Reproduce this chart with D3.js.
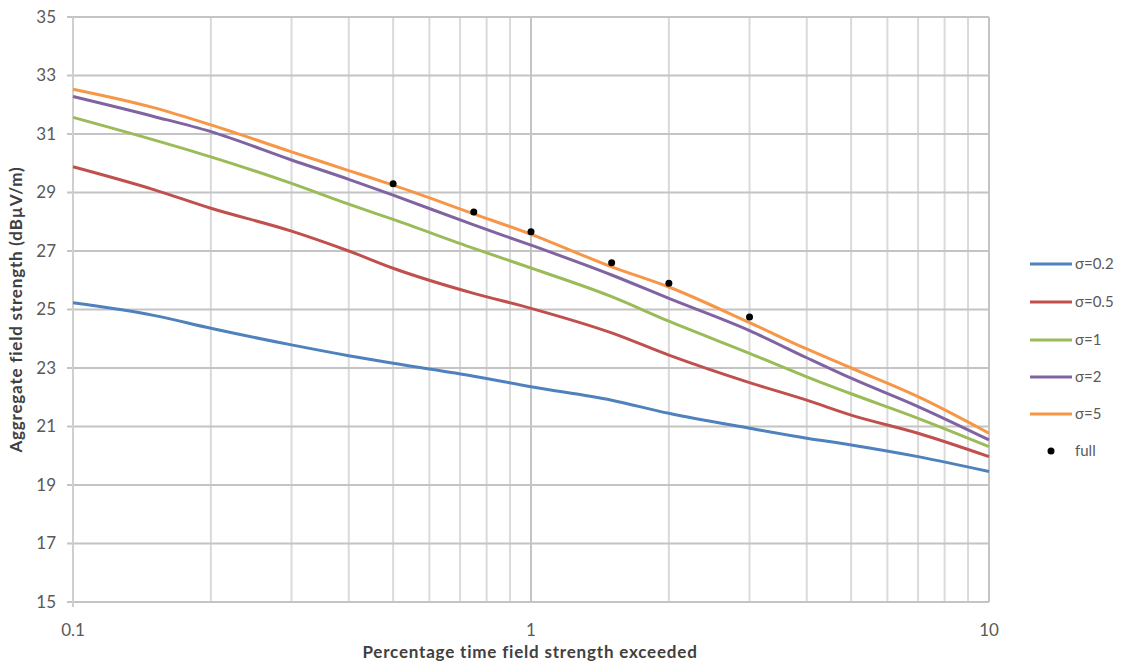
<!DOCTYPE html>
<html><head><meta charset="utf-8">
<script src="https://cdn.jsdelivr.net/npm/d3@7"></script>
<style>body{margin:0;background:#fff}svg{display:block}</style>
</head><body><svg id="c" width="1127" height="672"></svg>
<script>
const xs = [0.1, 0.15, 0.2, 0.3, 0.4, 0.5, 0.75, 1, 1.5, 2, 3, 4, 5, 7, 10];
const s02 = [25.23, 24.8, 24.36, 23.79, 23.42, 23.16, 22.72, 22.36, 21.9, 21.45, 20.94, 20.6, 20.37, 19.97, 19.46];
const s05 = [29.88, 29.1, 28.46, 27.68, 27.0, 26.41, 25.55, 25.04, 24.2, 23.44, 22.5, 21.9, 21.39, 20.77, 19.97];
const s1  = [31.57, 30.8, 30.22, 29.31, 28.6, 28.08, 27.09, 26.42, 25.44, 24.6, 23.5, 22.7, 22.12, 21.28, 20.31];
const s2  = [32.28, 31.6, 31.08, 30.11, 29.45, 28.91, 27.89, 27.2, 26.18, 25.38, 24.28, 23.35, 22.65, 21.68, 20.54];
const s5  = [32.53, 31.9, 31.31, 30.39, 29.75, 29.25, 28.27, 27.57, 26.46, 25.77, 24.55, 23.65, 23.0, 22.02, 20.77];
const fullX = [0.5, 0.75, 1, 1.5, 2, 3];
const fullY = [29.3, 28.33, 27.66, 26.6, 25.9, 24.74];
const seriesNames = ["σ=0.2", "σ=0.5", "σ=1", "σ=2", "σ=5"];
const seriesVals = [s02, s05, s1, s2, s5];
const colors = ["#4F81BD", "#C0504D", "#9BBB59", "#8064A2", "#F79646"];
const yTicks = [15, 17, 19, 21, 23, 25, 27, 29, 31, 33, 35];
const xTickLabels = [0.1, 1, 10];

const svg = d3.select("#c");
const L = 73, R = 989, T = 17, B = 602;
const x = d3.scaleLog().domain([0.1, 10]).range([L, R]);
const y = d3.scaleLinear().domain([15, 35]).range([B, T]);
const font = "Lato, 'Open Sans', 'Liberation Sans', sans-serif";

// vertical grid
const minors = [];
for (let d = 0.1; d < 10; d *= 10) for (let k = 2; k <= 9; k++) minors.push(+(d * k).toFixed(3));
svg.append("g").selectAll("line").data(minors).join("line")
  .attr("x1", d => x(d)).attr("x2", d => x(d)).attr("y1", T).attr("y2", B)
  .attr("stroke", "#dadada").attr("stroke-width", 2);
svg.append("g").selectAll("line").data([1, 10]).join("line")
  .attr("x1", d => x(d)).attr("x2", d => x(d)).attr("y1", T).attr("y2", B)
  .attr("stroke", "#c4c4c4").attr("stroke-width", 2);
// horizontal grid
svg.append("g").selectAll("line").data(yTicks).join("line")
  .attr("x1", L - 6).attr("x2", R).attr("y1", d => y(d)).attr("y2", d => y(d))
  .attr("stroke", "#c4c4c4").attr("stroke-width", 2);
// left axis
svg.append("line").attr("x1", L).attr("x2", L).attr("y1", T).attr("y2", B + 5)
  .attr("stroke", "#cfcfcf").attr("stroke-width", 2);

// y tick labels
svg.append("g").selectAll("text").data(yTicks).join("text")
  .attr("x", 56).attr("y", d => y(d)).attr("dy", "0.35em").attr("text-anchor", "end")
  .attr("font-family", font).attr("font-size", 17).attr("fill", "#595959").text(d => d);
// x tick labels
svg.append("g").selectAll("text").data(xTickLabels).join("text")
  .attr("x", d => x(d)).attr("y", 636).attr("text-anchor", "middle")
  .attr("font-family", font).attr("font-size", 17).attr("fill", "#595959").text(d => d);

// axis titles
svg.append("text").attr("x", 530).attr("y", 658).attr("text-anchor", "middle")
  .attr("font-family", font).attr("font-size", 17).attr("font-weight", "bold").attr("fill", "#404040")
  .attr("letter-spacing", 0.8)
  .text("Percentage time field strength exceeded");
svg.append("text").attr("transform", `translate(22,${(T + B) / 2}) rotate(-90)`).attr("text-anchor", "middle")
  .attr("font-family", font).attr("font-size", 17).attr("font-weight", "bold").attr("fill", "#404040")
  .attr("letter-spacing", 0.8)
  .text("Aggregate field strength (dBµV/m)");

// lines
const line = d3.line().x((d, i) => x(xs[i])).y(d => y(d)).curve(d3.curveMonotoneX);
seriesVals.forEach((vals, i) => {
  svg.append("path").datum(vals).attr("d", line).attr("fill", "none")
    .attr("stroke", colors[i]).attr("stroke-width", 3).attr("stroke-linejoin", "round");
});
// full points
svg.append("g").selectAll("circle").data(fullX).join("circle")
  .attr("cx", d => x(d)).attr("cy", (d, i) => y(fullY[i])).attr("r", 3.5).attr("fill", "#000");

// legend
const ly = [264, 302, 340, 377, 414];
const lg = svg.append("g");
seriesNames.forEach((n, i) => {
  lg.append("line").attr("x1", 1030).attr("x2", 1072).attr("y1", ly[i]).attr("y2", ly[i])
    .attr("stroke", colors[i]).attr("stroke-width", 3);
  lg.append("text").attr("x", 1075).attr("y", ly[i]).attr("dy", "0.35em")
    .attr("font-family", font).attr("font-size", 15).attr("fill", "#595959").text(n);
});
lg.append("circle").attr("cx", 1051).attr("cy", 451).attr("r", 3.5).attr("fill", "#000");
lg.append("text").attr("x", 1075).attr("y", 451).attr("dy", "0.35em")
  .attr("font-family", font).attr("font-size", 15).attr("fill", "#595959").text("full");
</script></body></html>
